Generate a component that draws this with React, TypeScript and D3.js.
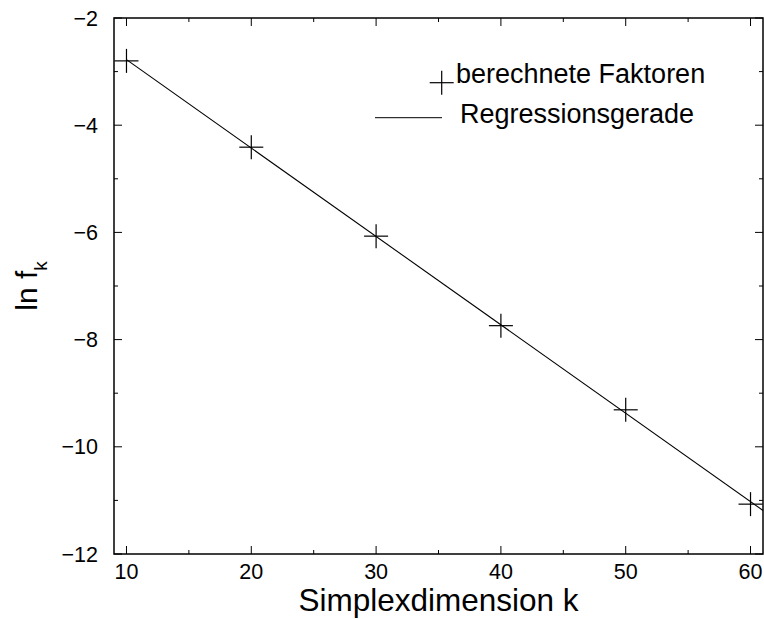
import React from "react";
import * as d3 from "d3";

const dimensions = [10, 20, 30, 40, 50, 60];
const lnFactors = [-2.8, -4.41, -6.07, -7.74, -9.31, -11.07];
const regressionRange = [10, 61];
const xTicks = [10, 20, 30, 40, 50, 60];
const xMinorTicks = [15, 25, 35, 45, 55];
const yTicks = [-2, -4, -6, -8, -10, -12];
const yMinorTicks = [-3, -5, -7, -9, -11];
const legendLabels = ["berechnete Faktoren", "Regressionsgerade"];
const xTitle = "Simplexdimension k";

const W = 764;
const H = 619;
const M = { left: 114, right: 763, top: 18, bottom: 554 };
const FONT = "'Liberation Sans', Arial, Helvetica, sans-serif";

export default function App() {
  const x = d3.scaleLinear().domain([9, 61]).range([M.left, M.right]);
  const y = d3.scaleLinear().domain([-12, -2]).range([M.bottom, M.top]);

  // least squares regression
  const mx = d3.mean(dimensions)!;
  const my = d3.mean(lnFactors)!;
  let num = 0;
  let den = 0;
  dimensions.forEach((d, i) => {
    num += (d - mx) * (lnFactors[i] - my);
    den += (d - mx) * (d - mx);
  });
  const slope = num / den;
  const intercept = my - slope * mx;
  const line = d3
    .line<number>()
    .x((d) => x(d))
    .y((d) => y(intercept + slope * d));

  const plus = (cx: number, cy: number, r: number, key: string) => (
    <g key={key} stroke="#000" strokeWidth={1.2}>
      <line x1={cx - r} x2={cx + r} y1={cy} y2={cy} />
      <line x1={cx} x2={cx} y1={cy - r} y2={cy + r} />
    </g>
  );

  return (
    <svg
      width={W}
      height={H}
      style={{ position: "absolute", left: 0, top: 0, background: "#fff" }}
      fontFamily={FONT}
    >
      <rect x={0} y={0} width={W} height={H} fill="#fff" />
      {/* regression line */}
      <path d={line(regressionRange) || ""} fill="none" stroke="#000" strokeWidth={1.1} />
      {/* points */}
      {dimensions.map((d, i) => plus(x(d), y(lnFactors[i]), 12, "p" + i))}

      {/* ticks */}
      <g stroke="#000" strokeWidth={1}>
        {xTicks.map((t) => (
          <g key={"xt" + t}>
            <line x1={x(t)} x2={x(t)} y1={M.bottom} y2={M.bottom - 8} />
            <line x1={x(t)} x2={x(t)} y1={M.top} y2={M.top + 8} />
          </g>
        ))}
        {xMinorTicks.map((t) => (
          <g key={"xm" + t}>
            <line x1={x(t)} x2={x(t)} y1={M.bottom} y2={M.bottom - 4} />
            <line x1={x(t)} x2={x(t)} y1={M.top} y2={M.top + 4} />
          </g>
        ))}
        {yTicks.map((t) => (
          <g key={"yt" + t}>
            <line x1={M.left} x2={M.left + 8} y1={y(t)} y2={y(t)} />
            <line x1={M.right} x2={M.right - 8} y1={y(t)} y2={y(t)} />
          </g>
        ))}
        {yMinorTicks.map((t) => (
          <g key={"ym" + t}>
            <line x1={M.left} x2={M.left + 4} y1={y(t)} y2={y(t)} />
            <line x1={M.right} x2={M.right - 4} y1={y(t)} y2={y(t)} />
          </g>
        ))}
      </g>

      {/* frame */}
      <rect
        x={M.left}
        y={M.top}
        width={M.right - M.left}
        height={M.bottom - M.top}
        fill="none"
        stroke="#000"
        strokeWidth={1.5}
      />

      {/* tick labels */}
      {xTicks.map((t) => (
        <text key={"xl" + t} x={x(t)} y={579} fontSize={21.5} textAnchor="middle" fill="#000">
          {t}
        </text>
      ))}
      {yTicks.map((t) => (
        <text
          key={"yl" + t}
          x={98}
          y={y(t) + 7.5}
          fontSize={21.5}
          textAnchor="end"
          fill="#000"
        >
          {"\u2212" + Math.abs(t)}
        </text>
      ))}

      {/* axis titles */}
      <text x={(M.left + M.right) / 2} y={611} fontSize={31.5} textAnchor="middle" fill="#000">
        {xTitle}
      </text>
      <text
        transform={`translate(37, ${(M.top + M.bottom) / 2}) rotate(-90)`}
        fontSize={30}
        textAnchor="middle"
        fill="#000"
      >
        <tspan>ln f</tspan>
        <tspan fontSize={19} dy={10}>k</tspan>
      </text>

      {/* legend */}
      {plus(441.7, 82.7, 12, "leg")}
      <text x={456} y={83} fontSize={27} fill="#000">
        {legendLabels[0]}
      </text>
      <line x1={375} x2={442} y1={117.7} y2={117.7} stroke="#000" strokeWidth={1} />
      <text x={460} y={123} fontSize={27} fill="#000">
        {legendLabels[1]}
      </text>
    </svg>
  );
}
